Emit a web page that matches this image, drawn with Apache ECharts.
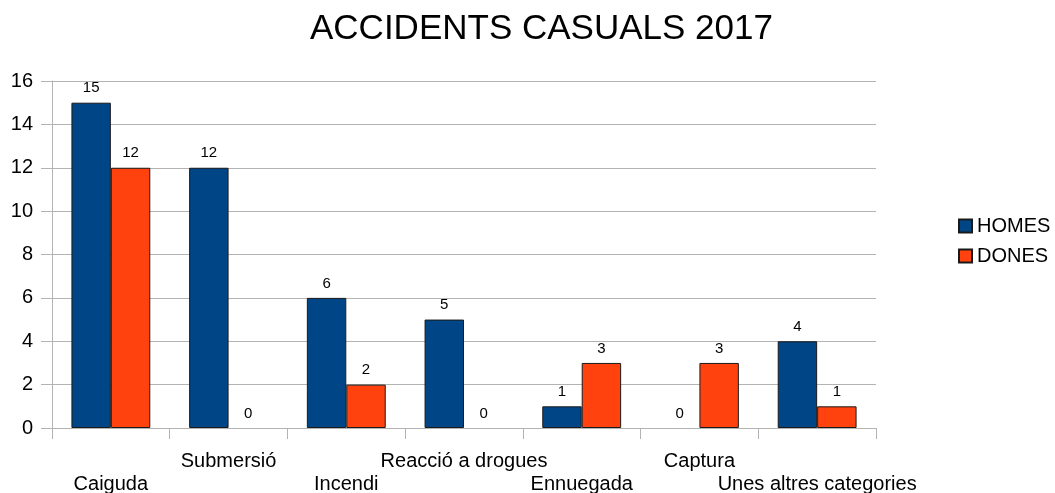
<!DOCTYPE html>
<html>
<head>
<meta charset="utf-8">
<script src="https://cdn.jsdelivr.net/npm/echarts@6/dist/echarts.min.js"></script>
<style>
html,body{margin:0;padding:0;background:#fff;}
#chart{width:1055px;height:493px;}
</style>
</head>
<body>
<div id="chart"></div>
<script>
const titleText = 'ACCIDENTS CASUALS 2017';
const categories = ['Caiguda', 'Submersió', 'Incendi', 'Reacció a drogues', 'Ennuegada', 'Captura', 'Unes altres categories'];
const homes = [15, 12, 6, 5, 1, 0, 4];
const dones = [12, 0, 2, 0, 3, 3, 1];
const seriesNames = ['HOMES', 'DONES'];

const font = '"Liberation Sans", Arial, sans-serif';
const chart = echarts.init(document.getElementById('chart'), null, {renderer: 'canvas'});
const labelStyle = {show: true, position: 'top', distance: 7, color: '#000', fontSize: 15, fontFamily: font};
function toItems(arr) {
  return arr.map(v => ({value: v, itemStyle: {borderWidth: v === 0 ? 0 : 1}}));
}
chart.setOption({
  animation: false,
  backgroundColor: '#fff',
  title: {
    text: titleText, left: 305, top: 7,
    textStyle: {fontFamily: font, fontSize: 35, fontWeight: 'normal', color: '#000'}
  },
  legend: {
    orient: 'vertical', left: 953, top: 211,
    itemWidth: 13, itemHeight: 13, itemGap: 10, icon: 'rect',
    textStyle: {fontFamily: font, fontSize: 20, color: '#000'},
    data: seriesNames
  },
  grid: {left: 52, right: 179, top: 81, bottom: 65, containLabel: false, outerBoundsMode: 'none'},
  xAxis: {
    type: 'category', data: categories,
    axisLine: {show: true, lineStyle: {color: '#b3b3b3'}},
    axisTick: {show: true, length: 11, lineStyle: {color: '#b3b3b3'}},
    axisLabel: {
      interval: 0, margin: 22, color: '#000', fontFamily: font, fontSize: 20, lineHeight: 23,
      formatter: function (v, i) { return i % 2 === 0 ? '\n' + v : v; }
    }
  },
  yAxis: {
    type: 'value', min: 0, max: 16, interval: 2,
    axisLine: {show: true, lineStyle: {color: '#b3b3b3'}},
    axisTick: {show: true, length: 11, lineStyle: {color: '#b3b3b3'}},
    splitLine: {show: true, lineStyle: {color: '#b3b3b3'}},
    axisLabel: {margin: 19, color: '#000', fontFamily: font, fontSize: 20}
  },
  series: [
    {name: seriesNames[0], type: 'bar', data: toItems(homes), barGap: '0%', barCategoryGap: '33%',
     itemStyle: {color: '#004586', borderColor: '#1a1a1a', borderWidth: 1}, label: labelStyle},
    {name: seriesNames[1], type: 'bar', data: toItems(dones), barGap: '0%', barCategoryGap: '33%',
     itemStyle: {color: '#ff420e', borderColor: '#1a1a1a', borderWidth: 1}, label: labelStyle}
  ]
});
</script>
</body>
</html>
